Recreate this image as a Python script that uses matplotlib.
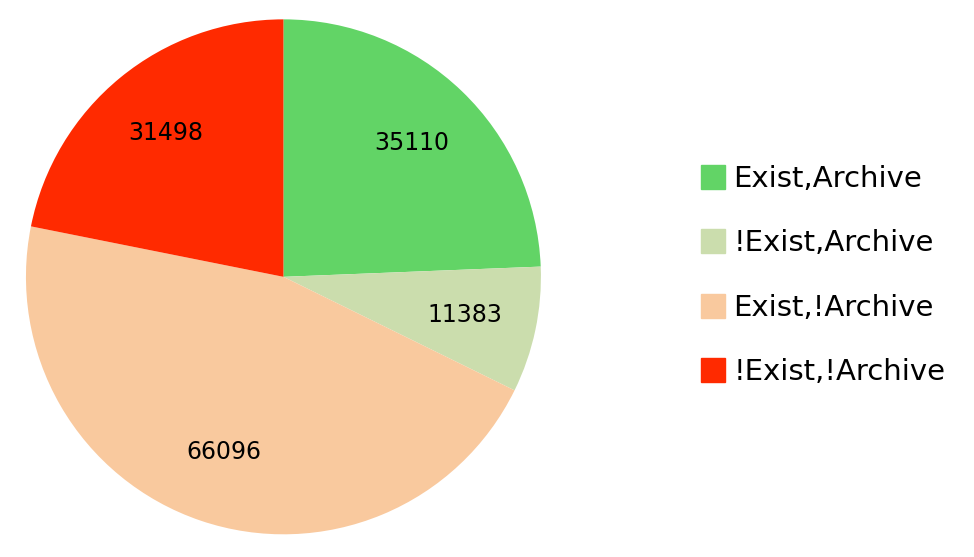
import matplotlib.pyplot as plt
from matplotlib.lines import Line2D

labels = ["Exist,Archive", "!Exist,Archive", "Exist,!Archive", "!Exist,!Archive"]
values = [35110, 11383, 66096, 31498]
colors = ["#62D466", "#CBDDAD", "#F9C99E", "#FF2A00"]

fig = plt.figure(figsize=(9.74, 5.57), dpi=100)
ax = fig.add_axes([0.024, 0.036, 0.534, 0.934])
wedges, texts = ax.pie(values, colors=colors, startangle=90, counterclock=False,
                       labels=[str(v) for v in values], labeldistance=0.72,
                       textprops={"fontsize": 17, "ha": "center", "va": "center"})
ax.set_xlim(-1.01, 1.01)
ax.set_ylim(-1.01, 1.01)
ax.set_aspect("equal")

handles = [Line2D([0], [0], marker="s", linestyle="none", markersize=17,
                  markerfacecolor=c, markeredgecolor=c) for c in colors]
fig.legend(handles, labels, loc="center left", bbox_to_anchor=(0.69, 0.505),
           frameon=False, fontsize=21, labelspacing=1.25, handletextpad=0.2,
           handlelength=1.0)

plt.savefig("out.png")
